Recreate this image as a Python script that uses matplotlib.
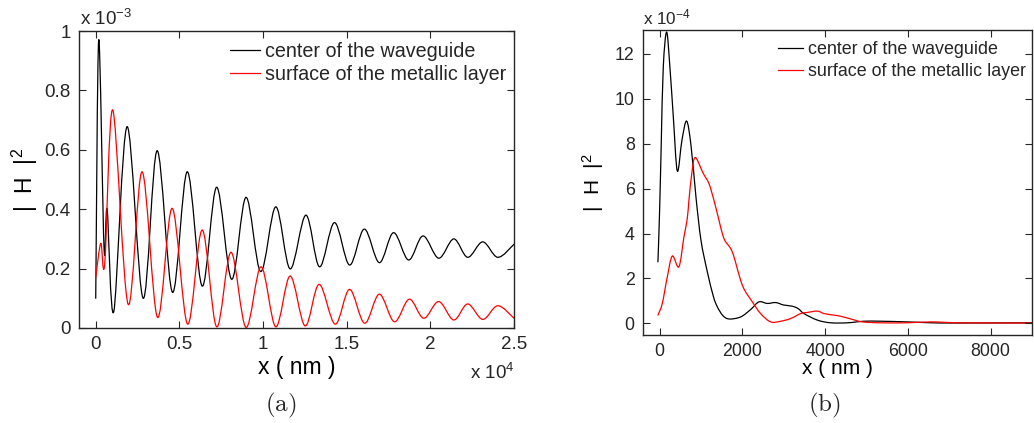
""" Field intensity |H|^2 along the structure: (a) long range, (b) short range. """

import numpy as np
import matplotlib
matplotlib.use("Agg")
import matplotlib.pyplot as plt
from matplotlib.path import Path
from matplotlib.patches import PathPatch

# ---- data (x in nm) ----
# (a) |H|^2 in units of 1e-3
a_center_x = [0, 180, 500, 680, 1078, 1875, 2835, 3670, 4590, 5470, 6365, 7225,
              8125, 8980, 9860, 10760, 11620, 12560, 13375, 14270, 15170, 16050,
              16950, 17800, 18700, 19560, 20500, 21400, 22230, 23130, 24030, 25000]
a_center_y = [0.10, 0.97, 0.265, 0.40, 0.055, 0.678, 0.10, 0.597, 0.12, 0.526, 0.141,
              0.474, 0.164, 0.44, 0.19, 0.408, 0.199, 0.38, 0.206, 0.355, 0.212, 0.333,
              0.22, 0.321, 0.229, 0.31, 0.235, 0.30, 0.238, 0.29, 0.238, 0.282]
a_surface_x = [0, 300, 540, 1020, 1935, 2775, 3690, 4570, 5490, 6365, 7225, 8085,
               8980, 9880, 10760, 11620, 12515, 13350, 14310, 15170, 16070, 16950,
               17850, 18740, 19600, 20500, 21400, 22230, 23130, 24030, 25000]
a_surface_y = [0.17, 0.285, 0.218, 0.734, 0.08, 0.526, 0.036, 0.403, 0.013, 0.33,
               0.004, 0.255, 0.002, 0.206, 0.004, 0.175, 0.007, 0.147, 0.013, 0.13,
               0.016, 0.114, 0.021, 0.097, 0.033, 0.089, 0.027, 0.081, 0.029, 0.075,
               0.033]

# (b) |H|^2 in units of 1e-4
b_center_x = [-40, 0, 40, 89, 170, 249, 331, 428, 540, 653, 760, 880, 1000, 1153,
              1300, 1395, 1530, 1680, 1958, 2200, 2401, 2604, 2805, 3000, 3200, 3350,
              3490, 3813, 4135, 4540, 4940, 5344, 6000, 6570, 7200, 9050]
b_center_y = [2.74, 5.0, 8.0, 11.4, 12.96, 11.4, 9.2, 6.78, 8.15, 9.0, 7.9, 5.6, 3.7,
              2.3, 1.2, 0.74, 0.35, 0.2, 0.29, 0.62, 0.96, 0.89, 0.93, 0.82, 0.77,
              0.66, 0.44, 0.15, 0.03, 0.03, 0.10, 0.10, 0.07, 0.03, 0.02, 0.03]
b_surface_x = [-40, 65, 186, 307, 467, 588, 669, 709, 780, 862, 1056, 1193, 1313,
               1395, 1555, 1757, 2000, 2242, 2442, 2684, 2926, 3168, 3410, 3571, 3813,
               3974, 4215, 4377, 4660, 4900, 5340, 5980, 6570, 7300, 9050]
b_surface_y = [0.37, 0.89, 2.07, 3.0, 2.52, 3.85, 4.67, 5.48, 6.7, 7.38, 6.67, 6.22,
               5.48, 4.89, 3.78, 3.18, 1.7, 0.96, 0.44, 0.07, 0.10, 0.22, 0.44, 0.49,
               0.55, 0.44, 0.37, 0.32, 0.18, 0.07, 0.03, 0.03, 0.07, 0.03, 0.02]

labels = ["center of the waveguide", "surface of the metallic layer"]
a_xticks = [0, 5000, 10000, 15000, 20000, 25000]
a_xticklabels = ["0", "0.5", "1", "1.5", "2", "2.5"]
a_yticks = [0, 0.2, 0.4, 0.6, 0.8, 1.0]
a_yticklabels = ["0", "0.2", "0.4", "0.6", "0.8", "1"]
b_xticks = [0, 2000, 4000, 6000, 8000]
b_yticks = [0, 2, 4, 6, 8, 10, 12]

TXT = "#262626"
plt.rcParams["font.family"] = ["Liberation Sans", "DejaVu Sans"]
plt.rcParams["mathtext.fontset"] = "custom"
plt.rcParams["mathtext.rm"] = "Liberation Sans"
plt.rcParams["mathtext.default"] = "regular"
plt.rcParams["text.color"] = TXT


def smooth_curve(ax, xs, ys, color):
    # smooth line through the read points (Catmull-Rom drawn as cubic Bezier)
    pts = np.column_stack([xs, ys]).astype(float)
    p = np.vstack([pts[0], pts, pts[-1]])
    verts = [pts[0]]
    codes = [Path.MOVETO]
    for i in range(1, len(p) - 2):
        c1 = p[i] + (p[i + 1] - p[i - 1]) / 6.0
        c2 = p[i + 1] - (p[i + 2] - p[i]) / 6.0
        verts += [c1, c2, p[i + 1]]
        codes += [Path.CURVE4] * 3
    ax.add_patch(PathPatch(Path(verts, codes), fill=False, edgecolor=color,
                           lw=0.9, capstyle="round", joinstyle="round"))


def style_axes(ax, fs):
    ax.tick_params(direction="in", top=True, right=True, length=5, width=0.8,
                   labelsize=fs, colors=TXT, pad=6)
    for s in ax.spines.values():
        s.set_linewidth(1.0)
        s.set_color(TXT)


fig = plt.figure(figsize=(10.34, 4.23), dpi=100)

# ---- (a) ----
ax1 = fig.add_axes([0.0764, 0.2246, 0.4207, 0.7021])
smooth_curve(ax1, a_center_x, a_center_y, "black")
smooth_curve(ax1, a_surface_x, a_surface_y, "#ff0000")
h1, = ax1.plot([], [], color="black", lw=0.9)
h2, = ax1.plot([], [], color="#ff0000", lw=0.9)
ax1.set_xlim(-1000, 25000)
ax1.set_ylim(0, 1.0)
ax1.set_xticks(a_xticks)
ax1.set_xticklabels(a_xticklabels)
ax1.set_yticks(a_yticks)
ax1.set_yticklabels(a_yticklabels)
style_axes(ax1, 13.5)
ax1.set_xlabel("x ( nm )", fontsize=16.5)
ax1.xaxis.set_label_coords(0.5, -0.093)
ax1.set_ylabel(r"|  H  |$^2$", fontsize=16.5)
ax1.yaxis.set_label_coords(-0.09, 0.5)
ax1.legend([h1, h2], labels, loc="upper right", bbox_to_anchor=(1.0, 0.99),
           frameon=False, fontsize=14.2, handlelength=1.5, handletextpad=0.25,
           labelspacing=0.2, borderpad=0.3, borderaxespad=0.1)
fig.text(80 / 1034, 1 - 25 / 423, r"x 10$^{-3}$", fontsize=13.5, va="baseline")
fig.text(470 / 1034, 1 - 379 / 423, r"x 10$^{4}$", fontsize=13.5, va="baseline")
fig.text(281 / 1034, 1 - 405 / 423, r"$\mathrm{(a)}$", fontsize=18, ha="center",
         va="center", math_fontfamily="cm")

# ---- (b) ----
ax2 = fig.add_axes([0.6219, 0.2087, 0.3762, 0.7204])
smooth_curve(ax2, b_center_x, b_center_y, "black")
smooth_curve(ax2, b_surface_x, b_surface_y, "#ff0000")
g1, = ax2.plot([], [], color="black", lw=0.9)
g2, = ax2.plot([], [], color="#ff0000", lw=0.9)
ax2.set_xlim(-400, 9000)
ax2.set_ylim(-0.5, 13.05)
ax2.set_xticks(b_xticks)
ax2.set_yticks(b_yticks)
style_axes(ax2, 12.8)
ax2.set_xlabel("x ( nm )", fontsize=15)
ax2.xaxis.set_label_coords(0.5, -0.08)
ax2.set_ylabel(r"|  H  |$^2$", fontsize=15)
ax2.yaxis.set_label_coords(-0.095, 0.5)
ax2.legend([g1, g2], labels, loc="upper right", bbox_to_anchor=(1.0, 0.985),
           frameon=False, fontsize=12.9, handlelength=1.4, handletextpad=0.25,
           labelspacing=0.3, borderpad=0.3, borderaxespad=0.05)
fig.text(643 / 1034, 1 - 24 / 423, r"x 10$^{-4}$", fontsize=12.3, va="baseline")
fig.text(824 / 1034, 1 - 405 / 423, r"$\mathrm{(b)}$", fontsize=18, ha="center",
         va="center", math_fontfamily="cm")

fig.savefig("out.png", dpi=100)
